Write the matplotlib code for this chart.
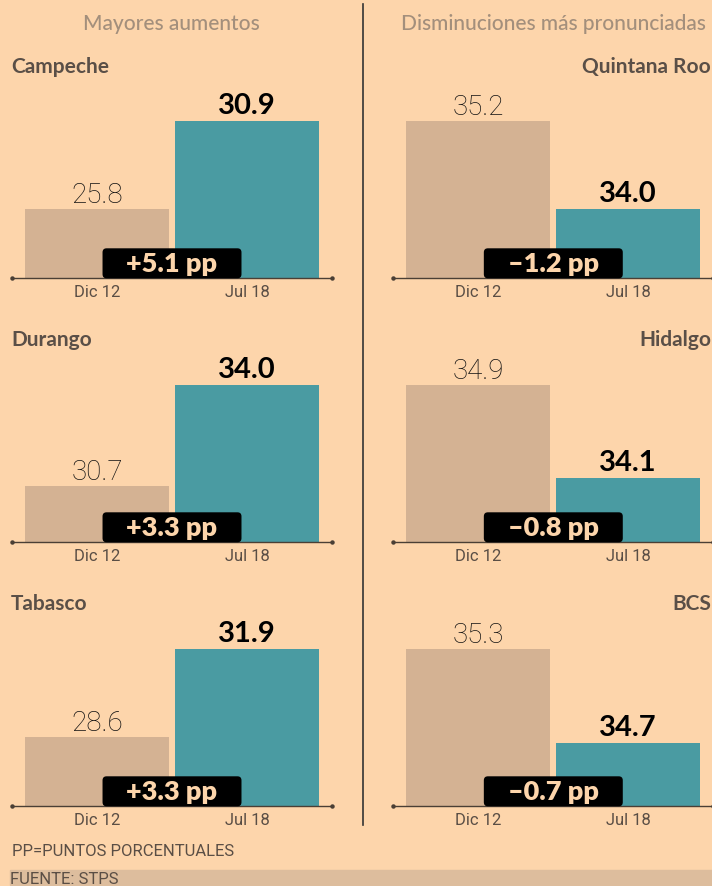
import matplotlib.pyplot as plt
from matplotlib.patches import FancyBboxPatch, Rectangle
from matplotlib.lines import Line2D
from matplotlib.transforms import blended_transform_factory

plt.rcParams['font.family'] = ['Lato', 'DejaVu Sans']
LIGERA = ['Roboto', 'DejaVu Sans']

# Datos
periodos = ['Dic 12', 'Jul 18']

aumentos = ['Campeche', 'Durango', 'Tabasco']
aum_dic12 = [25.8, 30.7, 28.6]
aum_jul18 = [30.9, 34.0, 31.9]
aum_dif = ['+5.1 pp', '+3.3 pp', '+3.3 pp']

disminuciones = ['Quintana Roo', 'Hidalgo', 'BCS']
dis_dic12 = [35.2, 34.9, 35.3]
dis_jul18 = [34.0, 34.1, 34.7]
dis_dif = ['–1.2 pp', '–0.8 pp', '–0.7 pp']

# piso del eje y de cada panel (el eje no empieza en cero)
aum_piso = [21.8, 28.87, 26.01]
dis_piso = [33.06, 33.55, 34.30]

# Colores
FONDO = '#FDD5AB'
BEIGE = '#D4B293'
TEAL = '#4A9BA2'
TEXTO = '#5A4E45'

W, H = 712, 887
fig = plt.figure(figsize=(W / 100, H / 100), dpi=100, facecolor=FONDO)


def fy(y):
    return 1 - y / H


base_filas = [279.3, 543.3, 807.3]
alto_panel = 157
titulo_filas = [73, 346, 610]
XLIM = (-0.569, 1.567)

columnas = [
    (11.7, 'Mayores aumentos', aumentos, aum_dic12, aum_jul18, aum_dif, aum_piso, 'left'),
    (393.0, 'Disminuciones más pronunciadas', disminuciones, dis_dic12, dis_jul18, dis_dif, dis_piso, 'right'),
]

for x0, encabezado, estados, dic, jul, difs, pisos, lado in columnas:
    ancho = 320.3
    fig.text((x0 + ancho / 2) / W, fy(30), encabezado, ha='center', va='baseline',
             fontsize=15, color='#A38F7C', fontweight='medium')

    for i, estado in enumerate(estados):
        base = base_filas[i]
        ax = fig.add_axes([x0 / W, fy(base), ancho / W, alto_panel / H])
        ax.set_facecolor('none')

        # Barras
        ax.bar([0, 1], [dic[i], jul[i]], width=0.96, color=[BEIGE, TEAL])
        ax.set_xlim(*XLIM)
        ax.set_ylim(pisos[i], max(dic[i], jul[i]))

        for s in ['top', 'left', 'right']:
            ax.spines[s].set_visible(False)
        ax.spines['bottom'].set_color('#4A3F35')
        ax.spines['bottom'].set_linewidth(1.0)
        ax.plot(XLIM, [pisos[i]] * 2, 'o', ms=2.2, color='#4A3F35', clip_on=False)

        ax.set_yticks([])
        ax.set_xticks([0, 1], periodos)
        ax.tick_params(axis='x', length=0, pad=4, labelsize=12, labelcolor=TEXTO)
        for t in ax.get_xticklabels():
            t.set_fontfamily(LIGERA)
            t.set_fontweight('normal')

        # Valores
        ax.annotate(f'{dic[i]:.1f}', (0, dic[i]), xytext=(0, 7.5), textcoords='offset pixels',
                    ha='center', va='baseline', fontsize=20, fontweight='light',
                    family=LIGERA, color='#111111')
        ax.annotate(f'{jul[i]:.1f}', (1, jul[i]), xytext=(0, 8), textcoords='offset pixels',
                    ha='center', va='baseline', fontsize=21, fontweight='bold', color='black')

        # Etiqueta de diferencia
        trans = blended_transform_factory(ax.transData, ax.transAxes)
        caja = FancyBboxPatch((0.5 - 0.4633, 0), 0.9267, 30 / alto_panel,
                              boxstyle='round,pad=0,rounding_size=0.027', mutation_aspect=0.955,
                              transform=trans, fc='black', ec='none', clip_on=False, zorder=3)
        ax.add_patch(caja)
        ax.text(0.5, 7 / alto_panel, difs[i], transform=trans,
                ha='center', va='baseline', fontsize=19.5, fontweight='heavy', color=FONDO, zorder=4)

        # Nombre del estado
        if lado == 'left':
            fig.text(11 / W, fy(titulo_filas[i]), estado, ha='left', va='baseline',
                     fontsize=15, fontweight='bold', color='#5A4F47')
        else:
            fig.text(711 / W, fy(titulo_filas[i]), estado, ha='right', va='baseline',
                     fontsize=15, fontweight='bold', color='#5A4F47')

# Línea divisoria
fig.add_artist(Line2D([363 / W] * 2, [fy(5), fy(826)], color='#333333', lw=1.2))

# Notas
fig.text(12 / W, fy(856), 'PP=PUNTOS PORCENTUALES', ha='left', va='baseline',
         fontsize=12, fontweight='normal', family=LIGERA, color=TEXTO)
fig.add_artist(Rectangle((10 / W, fy(886)), 702 / W, 15 / H, transform=fig.transFigure,
                         color='#DDBD9D', zorder=0))
fig.text(10 / W, fy(884.5), 'FUENTE: STPS', ha='left', va='baseline',
         fontsize=12, fontweight='normal', family=LIGERA, color=TEXTO)

fig.savefig('out.png', dpi=100, facecolor=FONDO)
